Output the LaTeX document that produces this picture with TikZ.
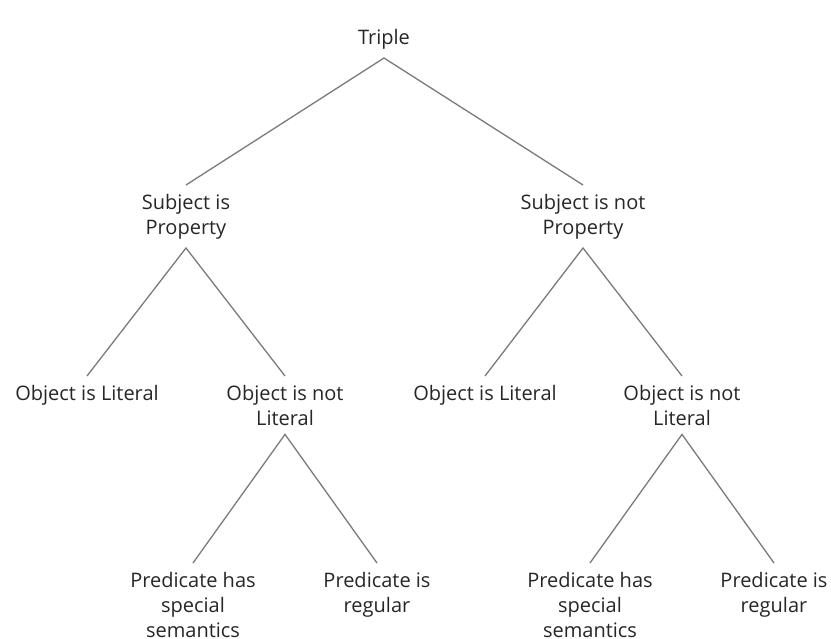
\documentclass[tikz,border=0pt]{standalone}
\usepackage{fontspec}
\setmainfont{Open Sans}
\definecolor{txt}{HTML}{262626}
\definecolor{ln}{HTML}{7A7A7A}
\begin{document}
\begin{tikzpicture}[x=1pt,y=-1pt,
  lbl/.style={anchor=north,inner sep=0pt,outer sep=9pt,align=center,text=txt,
    font=\fontsize{20}{25}\selectfont},
  br/.style={draw=ln,line width=1.3pt}]
\useasboundingbox (0,0) rectangle (831,639);
\node[lbl] (t) at (384,20) {Triple};
\node[lbl] (sp) at (186,185) {Subject is\\Property};
\node[lbl] (snp) at (583,185) {Subject is not\\Property};
\node[lbl] (ol1) at (87,376) {Object is Literal};
\node[lbl] (onl1) at (285,376) {Object is not\\Literal};
\node[lbl] (ol2) at (485,376) {Object is Literal};
\node[lbl] (onl2) at (682,376) {Object is not\\Literal};
\node[lbl] (ps1) at (193,563) {Predicate has\\special\\semantics};
\node[lbl] (pr1) at (377,563) {Predicate is\\regular};
\node[lbl] (ps2) at (590,563) {Predicate has\\special\\semantics};
\node[lbl] (pr2) at (774,563) {Predicate is\\regular};
\draw[br] (sp.north) -- (t.south) -- (snp.north);
\draw[br] (ol1.north) -- (sp.south) -- (onl1.north);
\draw[br] (ol2.north) -- (snp.south) -- (onl2.north);
\draw[br] (ps1.north) -- (onl1.south) -- (pr1.north);
\draw[br] (ps2.north) -- (onl2.south) -- (pr2.north);
\end{tikzpicture}
\end{document}
